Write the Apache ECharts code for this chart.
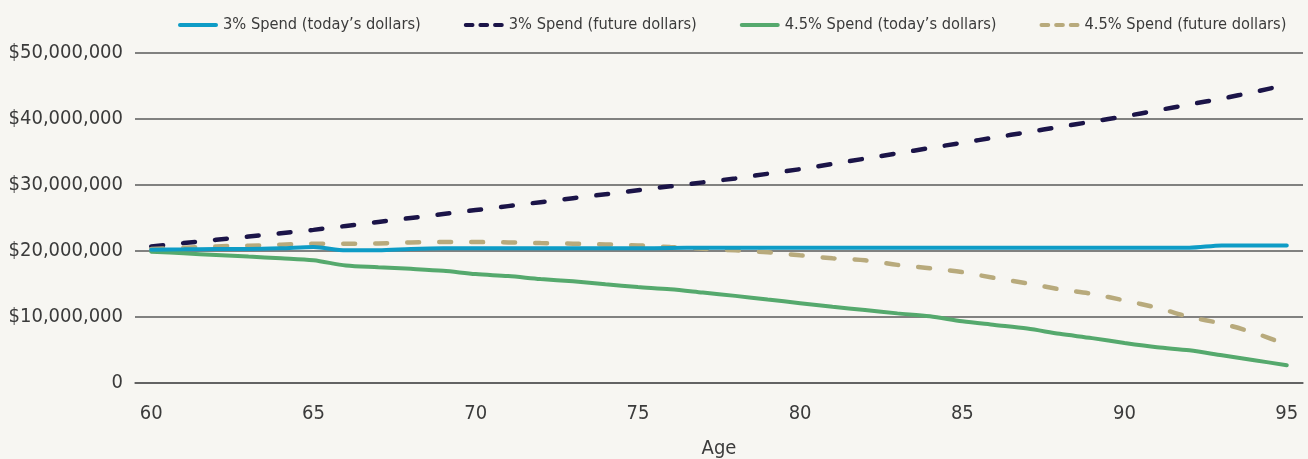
<!DOCTYPE html>
<html>
<head>
<meta charset="utf-8">
<script src="https://cdn.jsdelivr.net/npm/echarts@6/dist/echarts.min.js"></script>
<style>
    html, body {margin: 0; padding: 0; background: #f7f6f2;}
    #chart {width: 1308px; height: 459px;}
</style>
</head>
<body>
<div id="chart"></div>
<script>
    var ages = [];
    for (var a = 60; a <= 95; a++) { ages.push(String(a)); }

    // values in millions of dollars
    var spend3Today = [20.2, 20.25, 20.3, 20.3, 20.4, 20.6, 20.1, 20.1, 20.3, 20.4, 20.4, 20.4, 20.4, 20.4, 20.4, 20.4, 20.45,
        20.5, 20.5, 20.5, 20.5, 20.5, 20.5, 20.5, 20.5, 20.5, 20.5, 20.5, 20.5, 20.5, 20.5, 20.5, 20.5, 20.85, 20.85, 20.85];
    var spend3Future = [20.7, 21.2, 21.7, 22.2, 22.7, 23.2, 23.8, 24.4, 25.0, 25.6, 26.2, 26.8, 27.4, 28.0, 28.6, 29.2, 29.8,
        30.4, 31.0, 31.7, 32.4, 33.2, 34.0, 34.8, 35.6, 36.4, 37.2, 38.0, 38.8, 39.6, 40.4, 41.3, 42.2, 43.1, 44.1, 45.2];
    var spend45Today = [19.9, 19.65, 19.4, 19.15, 18.9, 18.6, 17.8, 17.55, 17.3, 17.0, 16.5, 16.2, 15.75, 15.4, 14.95, 14.55, 14.2,
        13.7, 13.2, 12.65, 12.1, 11.55, 11.05, 10.55, 10.1, 9.35, 8.8, 8.25, 7.45, 6.8, 6.05, 5.4, 4.95, 4.2, 3.45, 2.7];
    var spend45Future = [20.3, 20.5, 20.7, 20.8, 20.95, 21.1, 21.1, 21.15, 21.3, 21.35, 21.35, 21.3, 21.2, 21.1, 21.0, 20.85, 20.6,
        20.35, 20.1, 19.8, 19.35, 18.9, 18.6, 17.9, 17.4, 16.8, 15.9, 15.1, 14.2, 13.5, 12.5, 11.4, 10.0, 9.0, 7.6, 5.8];

    var font = "'Liberation Sans Narrow', 'DejaVu Sans Condensed', 'Noto Sans', sans-serif";
    var textColor = '#3b3b3b';
    var gridColor = '#5a5a5a';
    var solidIcon = 'path://M2,0 L38,0 A2,2 0 0 1 38,4 L2,4 A2,2 0 0 1 2,0 Z';
    var dashIcon = 'path://M1.5,0h7a2,2 0 0 1 0,4h-7a2,2 0 0 1 0,-4z M16.5,0h7a2,2 0 0 1 0,4h-7a2,2 0 0 1 0,-4z M31.5,0h7a2,2 0 0 1 0,4h-7a2,2 0 0 1 0,-4z';

    function toDollars(arr) {
        return arr.map(function (v) { return Math.round(v * 1000000); });
    }

    function fmt(v) {
        if (v === 0) return '0';
        return '$' + String(v).replace(/\B(?=(\d{3})+(?!\d))/g, ',');
    }

    var myChart = echarts.init(document.getElementById('chart'));
    myChart.setOption({
        backgroundColor: '#f7f6f2',
        animation: false,
        textStyle: {fontFamily: font, color: textColor},
        legend: {
            left: 173,
            top: 12,
            itemWidth: 40,
            itemHeight: 4,
            itemGap: 43,
            textStyle: {fontSize: 16.3, color: textColor, fontFamily: font},
            itemStyle: {borderWidth: 0},
            lineStyle: {width: 0},
            data: [
                {name: '3% Spend (today\u2019s dollars)', icon: solidIcon},
                {name: '3% Spend (future dollars)', icon: dashIcon},
                {name: '4.5% Spend (today\u2019s dollars)', icon: solidIcon},
                {name: '4.5% Spend (future dollars)', icon: dashIcon}
            ]
        },
        grid: {left: 135, right: 5, top: 53, bottom: 76, containLabel: false, outerBoundsMode: 'none'},
        xAxis: {
            type: 'category',
            data: ages,
            boundaryGap: true,
            name: 'Age',
            nameLocation: 'middle',
            nameGap: 56,
            nameTextStyle: {fontSize: 20, color: textColor, fontFamily: font},
            axisLine: {show: true, lineStyle: {color: gridColor, width: 1.5}},
            axisTick: {show: false},
            axisLabel: {interval: 4, fontSize: 20, color: textColor, margin: 21, fontFamily: font},
            splitLine: {show: false}
        },
        yAxis: {
            type: 'value',
            min: 0,
            max: 50000000,
            interval: 10000000,
            axisLine: {show: false},
            axisTick: {show: false},
            axisLabel: {fontSize: 20, color: textColor, margin: 12, fontFamily: font, formatter: fmt},
            splitLine: {lineStyle: {color: gridColor, width: 1.5}}
        },
        series: [
            {
                name: '3% Spend (today\u2019s dollars)',
                type: 'line',
                data: toDollars(spend3Today),
                smooth: 0.3,
                showSymbol: false,
                symbol: 'none',
                z: 4,
                lineStyle: {color: '#0e9cc6', width: 4, cap: 'round'},
                itemStyle: {color: '#0e9cc6'}
            },
            {
                name: '3% Spend (future dollars)',
                type: 'line',
                data: toDollars(spend3Future),
                smooth: 0.3,
                showSymbol: false,
                symbol: 'none',
                z: 3,
                lineStyle: {color: '#1b1448', width: 4.5, type: [12, 20], cap: 'round'},
                itemStyle: {color: '#1b1448'}
            },
            {
                name: '4.5% Spend (today\u2019s dollars)',
                type: 'line',
                data: toDollars(spend45Today),
                smooth: 0.3,
                showSymbol: false,
                symbol: 'none',
                z: 2,
                lineStyle: {color: '#55a96d', width: 4, cap: 'round'},
                itemStyle: {color: '#55a96d'}
            },
            {
                name: '4.5% Spend (future dollars)',
                type: 'line',
                data: toDollars(spend45Future),
                smooth: 0.3,
                showSymbol: false,
                symbol: 'none',
                z: 3,
                lineStyle: {color: '#b8aa7c', width: 4.5, type: [12, 20], cap: 'round'},
                itemStyle: {color: '#b8aa7c'}
            }
        ]
    });
    window.onresize = function () {
        myChart.resize();
    };
</script>
</body>
</html>
